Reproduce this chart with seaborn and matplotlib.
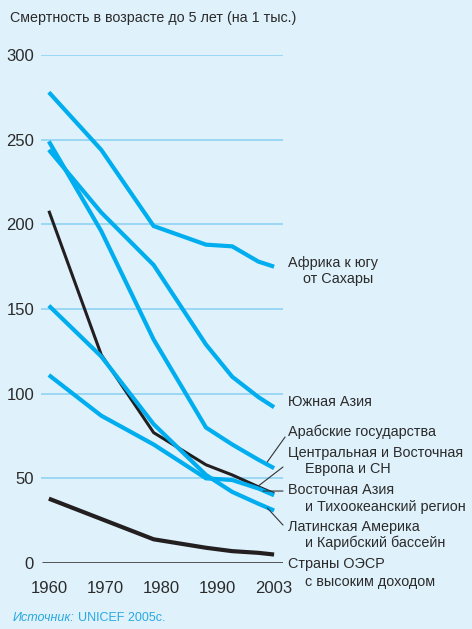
import numpy as np
import pandas as pd
import matplotlib
matplotlib.use("Agg")
import matplotlib.pyplot as plt
import seaborn as sns

# data (under-5 mortality per 1000)
years = [1960, 1970, 1980, 1990, 1995, 2000, 2003]
africa = [278, 244, 199, 188, 187, 178, 175]
south_asia = [244, 207, 176, 129, 110, 98, 92]
arab = [249, 196, 132, 80, 70, 61, 56]
cee_cis = [208, 123, 77, 58, 52, 45, 41]
east_asia = [111, 87, 70, 50, 49, 44, 40]
latin = [152, 122, 82, 52, 42, 35, 31]
oecd = [38, 26, 14, 9, 7, 6, 5]

tick_labels = ["1960", "1970", "1980", "1990", "2003"]
y_ticks = [0, 50, 100, 150, 200, 250, 300]

BG = "#dff1fb"
BLUE = "#00aeef"
BLACK = "#231f20"
TXT = "#2b2b2b"

sns.set_theme(style="white")
plt.rcParams["font.family"] = ["Liberation Sans", "DejaVu Sans"]

fig = plt.figure(figsize=(4.72, 6.29), dpi=100, facecolor=BG)
ax = fig.add_axes([41/472, 1 - 563/629, 242/472, 508/629])
ax.set_facecolor(BG)

# gridlines
for v in y_ticks[1:]:
    ax.axhline(v, color="#8fd3f2", lw=1.2, zorder=1)
ax.axhline(0, color="#3a3a3a", lw=1.2, zorder=1, xmin=0.01)

series = [
    (oecd, BLACK, 3.0),
    (cee_cis, BLACK, 2.2),
    (africa, BLUE, 3.0),
    (south_asia, BLUE, 3.0),
    (arab, BLUE, 3.0),
    (east_asia, BLUE, 3.0),
    (latin, BLUE, 3.0),
]
for vals, col, lw in series:
    sns.lineplot(x=years, y=vals, color=col, lw=lw, ax=ax, zorder=3,
                 solid_joinstyle="miter", solid_capstyle="butt", clip_on=False)

ax.set_xlim(1958.5, 2004.7)
ax.set_ylim(0, 300)
for s in ax.spines.values():
    s.set_visible(False)

ax.set_xticks(np.linspace(1960, 2003, 5))
ax.set_xticklabels(tick_labels)
ax.set_yticks(y_ticks)
ax.set_yticklabels([str(t) for t in y_ticks])
ax.tick_params(axis="both", length=0, labelsize=12, colors=TXT)
ax.tick_params(axis="y", pad=5)
ax.tick_params(axis="x", pad=13)

# leader lines
leaders = [((2001.7, 59.7), (2005.1, 74.4)),
           ((2000.0, 45.5), (2004.7, 56.7)),
           ((2000.9, 42.5), (2004.7, 42.5)),
           ((2001.7, 32.5), (2004.7, 22.4))]
for a, b in leaders:
    ax.annotate("", xy=a, xytext=b, annotation_clip=False,
                arrowprops=dict(arrowstyle="-", lw=0.8, color="#333333",
                                shrinkA=0, shrinkB=0))

# series labels on the right
labels = [
    ("Африка к югу", 2005.7, 177),
    ("от Сахары", 2008.6, 168),
    ("Южная Азия", 2005.7, 95),
    ("Арабские государства", 2005.7, 77.5),
    ("Центральная и Восточная", 2005.7, 65),
    ("Европа и СН", 2008.9, 55.5),
    ("Восточная Азия", 2005.7, 43),
    ("и Тихоокеанский регион", 2008.9, 33),
    ("Латинская Америка", 2005.7, 21),
    ("и Карибский бассейн", 2008.9, 12),
    ("Страны ОЭСР", 2005.7, -0.6),
    ("с высоким доходом", 2008.9, -11),
]
for txt, x, y in labels:
    ax.text(x, y, txt, fontsize=10.4, color=TXT, ha="left", va="center",
            clip_on=False)

fig.text(10/472, 1 - 18/629, "Смертность в возрасте до 5 лет (на 1 тыс.)",
         fontsize=10.3, color=TXT, ha="left", va="center")
t1 = fig.text(13/472, 1 - 618/629, "Источник:", fontsize=9, color="#29a9e0",
              style="italic", ha="left", va="center")
fig.canvas.draw()
bb = t1.get_window_extent()
fig.text((bb.x1 + 3)/472, 1 - 618/629, "UNICEF 2005с.", fontsize=9,
         color="#29a9e0", ha="left", va="center")

fig.savefig("out.png", dpi=100, facecolor=BG)
